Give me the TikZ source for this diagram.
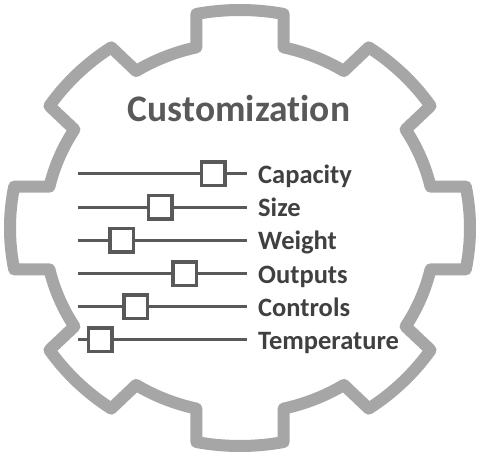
\documentclass[tikz,border=0pt]{standalone}
\usepackage{fontspec}
\setmainfont{Carlito}[Ligatures=NoCommon]
\usepackage{tikz}
\definecolor{geargray}{HTML}{A6A6A6}
\definecolor{railgray}{HTML}{595959}
\definecolor{titlegray}{HTML}{595959}
\definecolor{taggray}{HTML}{404040}

\begin{document}
\begin{tikzpicture}[x=1pt,y=1pt]
\tikzstyle{every node}+=[inner sep=0pt]
\tikzstyle{gearline}=[draw=geargray, line width=12pt, line join=round]
\tikzstyle{rail}=[draw=railgray, line width=3pt]
\tikzstyle{knob}=[draw=railgray, fill=white, line width=3.5pt, minimum size=23.5pt]
\tikzstyle{tag}=[text=taggray, font=\fontsize{26.5}{30}\selectfont\bfseries, anchor=base west]
\fill [white] (-240,-237) rectangle (240,228);
\useasboundingbox (-240,-237) rectangle (240,228);
% gear outline, eight teeth
\draw [gearline] (-12.9:195.5pt and 185.3pt)
  -- (-10.95:230pt and 218pt) arc (-10.95:10.95:230pt and 218pt)
  -- (12.9:195.5pt and 185.3pt) arc (12.9:32.1:195.5pt and 185.3pt)
  -- (34.05:230pt and 218pt) arc (34.05:55.95:230pt and 218pt)
  -- (57.9:195.5pt and 185.3pt) arc (57.9:77.1:195.5pt and 185.3pt)
  -- (79.05:230pt and 218pt) arc (79.05:100.95:230pt and 218pt)
  -- (102.9:195.5pt and 185.3pt) arc (102.9:122.1:195.5pt and 185.3pt)
  -- (124.05:230pt and 218pt) arc (124.05:145.95:230pt and 218pt)
  -- (147.9:195.5pt and 185.3pt) arc (147.9:167.1:195.5pt and 185.3pt)
  -- (169.05:230pt and 218pt) arc (169.05:190.95:230pt and 218pt)
  -- (192.9:195.5pt and 185.3pt) arc (192.9:212.1:195.5pt and 185.3pt)
  -- (214.05:230pt and 218pt) arc (214.05:235.95:230pt and 218pt)
  -- (237.9:195.5pt and 185.3pt) arc (237.9:257.1:195.5pt and 185.3pt)
  -- (259.05:230pt and 218pt) arc (259.05:280.95:230pt and 218pt)
  -- (282.9:195.5pt and 185.3pt) arc (282.9:302.1:195.5pt and 185.3pt)
  -- (304.05:230pt and 218pt) arc (304.05:325.95:230pt and 218pt)
  -- (327.9:195.5pt and 185.3pt) arc (327.9:347.1:195.5pt and 185.3pt)
  -- cycle;
% title
\node [anchor=base, text=titlegray, font=\fontsize{37.5}{42}\selectfont\bfseries] (title) at (-1,106) {Customization};
% sliders
\coordinate (capw) at (-162,54);
\coordinate (cape) at (7,54);
\draw [rail] (capw) -- (cape);
\node [knob] (capknob) at (-26.7,54) {};
\node [tag] (captag) at (18,44.5) {Capacity};
\coordinate (sizw) at (-162,20.8);
\coordinate (size) at (7,20.8);
\draw [rail] (sizw) -- (size);
\node [knob] (sizknob) at (-79.7,20.8) {};
\node [tag] (siztag) at (18,11.3) {Size};
\coordinate (weiw) at (-162,-12.4);
\coordinate (weie) at (7,-12.4);
\draw [rail] (weiw) -- (weie);
\node [knob] (weiknob) at (-118,-12.4) {};
\node [tag] (weitag) at (18,-21.9) {Weight};
\coordinate (outw) at (-162,-45.6);
\coordinate (oute) at (7,-45.6);
\draw [rail] (outw) -- (oute);
\node [knob] (outknob) at (-55,-45.6) {};
\node [tag] (outtag) at (18,-55.1) {Outputs};
\coordinate (conw) at (-162,-78.8);
\coordinate (cone) at (7,-78.8);
\draw [rail] (conw) -- (cone);
\node [knob] (conknob) at (-104.3,-78.8) {};
\node [tag] (contag) at (18,-88.3) {Controls};
\coordinate (temw) at (-162,-112);
\coordinate (teme) at (7,-112);
\draw [rail] (temw) -- (teme);
\node [knob] (temknob) at (-139.7,-112) {};
\node [tag] (temtag) at (18,-121.5) {Temperature};
\end{tikzpicture}
\end{document}
